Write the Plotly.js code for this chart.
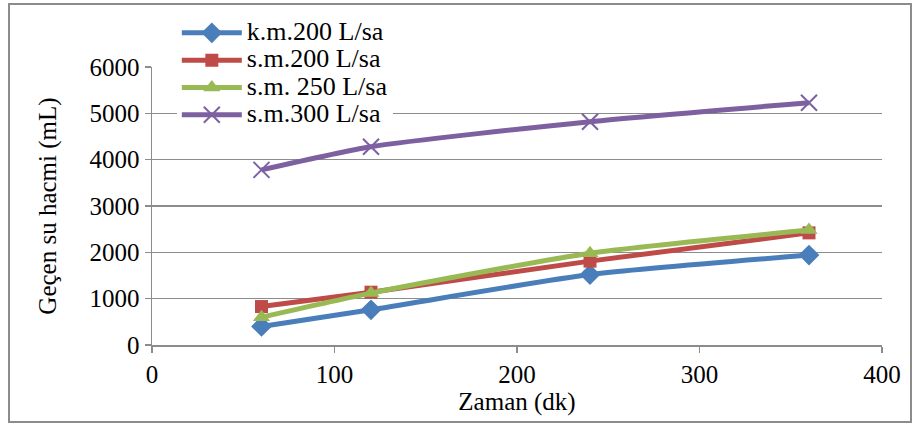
<!DOCTYPE html>
<html>
<head>
<meta charset="utf-8">
<script src="https://cdn.plot.ly/plotly-3.0.1.min.js"></script>
<style>
  html, body { margin: 0; padding: 0; background: #fff; }
  #wrap { position: relative; width: 912px; height: 425px; }
  #chart { position: absolute; left: 0; top: 0; width: 912px; height: 425px; }
  #frame { position: absolute; left: 8px; top: 3px; width: 900px; height: 416px;
           border: 2px solid #8c8c8c; pointer-events: none; }
</style>
</head>
<body>
<div id="wrap">
  <div id="chart"></div>
  <div id="frame"></div>
</div>
<script>
// Time (minutes)
const zaman = [60, 120, 240, 360];

// Passed water volume (mL) per series
const km200 = [400, 760, 1520, 1940];
const sm200 = [830, 1140, 1810, 2420];
const sm250 = [600, 1120, 1980, 2480];
const sm300 = [3780, 4280, 4820, 5230];

const seriesNames = ['k.m.200 L/sa', 's.m.200 L/sa', 's.m. 250 L/sa', 's.m.300 L/sa'];

const xTicks = [0, 100, 200, 300, 400];
const yTicks = [0, 1000, 2000, 3000, 4000, 5000, 6000];

const serif = 'Liberation Serif, Times New Roman, serif';

// Legend labels are set larger than the legend font so the rows stay compact
const legendLabel = s => '<span style="font-size:26px">' + s + '</span>';

function series(y, name, color, symbol, size, extra) {
  return Object.assign({
    x: zaman, y: y, name: legendLabel(name), type: 'scatter', mode: 'lines+markers',
    line: { color: color, width: 5, shape: 'spline', smoothing: 0.6 },
    marker: { color: color, symbol: symbol, size: size }
  }, extra || {});
}

const data = [
  series(km200, seriesNames[0], '#4a7ebb', 'diamond', 16),
  series(sm200, seriesNames[1], '#be4b48', 'square', 13),
  series(sm250, seriesNames[2], '#98b954', 'triangle-up', 15),
  series(sm300, seriesNames[3], '#7d60a0', 'x-thin-open', 16,
    { marker: { color: '#7d60a0', symbol: 'x-thin-open', size: 16,
                line: { color: '#7d60a0', width: 2 } } })
];

const layout = {
  width: 912, height: 425,
  margin: { l: 152, r: 30, t: 67, b: 80 },
  paper_bgcolor: '#fff', plot_bgcolor: '#fff',
  font: { family: serif, size: 25, color: '#000' },
  showlegend: true,
  legend: {
    x: 0.034, y: 1.19, xanchor: 'left', yanchor: 'top',
    bgcolor: '#fff', borderwidth: 0,
    font: { family: serif, size: 18.7, color: '#000' },
    tracegroupgap: 0, itemwidth: 60
  },
  xaxis: {
    range: [0, 400], tickvals: xTicks, ticktext: xTicks.map(String),
    showgrid: false, zeroline: false,
    showline: true, linecolor: '#8c8c8c', linewidth: 1.5,
    ticks: 'outside', ticklen: 6, tickcolor: '#8c8c8c', tickwidth: 1.5,
    tickfont: { family: serif, size: 25 },
    title: { text: 'Zaman (dk)', font: { family: serif, size: 25 }, standoff: 0 }
  },
  yaxis: {
    range: [0, 6000], tickvals: yTicks, ticktext: yTicks.map(String),
    showgrid: true, gridcolor: '#8c8c8c', gridwidth: 1.5,
    zeroline: false,
    showline: true, linecolor: '#8c8c8c', linewidth: 1.5,
    ticks: 'outside', ticklen: 6, tickcolor: '#8c8c8c', tickwidth: 1.5,
    tickfont: { family: serif, size: 25 },
    title: { text: 'Geçen su hacmi (mL)', font: { family: serif, size: 25 }, standoff: 26 }
  }
};

Plotly.newPlot('chart', data, layout, { displayModeBar: false, staticPlot: true });
</script>
</body>
</html>
